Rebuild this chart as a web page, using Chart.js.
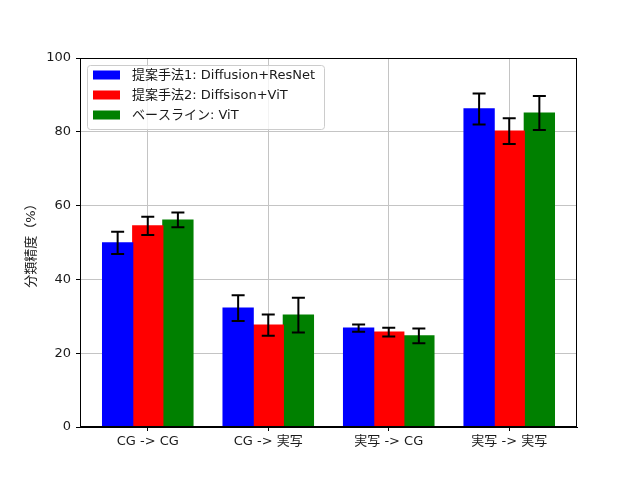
<!DOCTYPE html>
<html>
<head>
<meta charset="utf-8">
<script src="https://cdn.jsdelivr.net/npm/chart.js@4"></script>
<style>
  html, body { margin: 0; padding: 0; background: #fff; }
  #wrap { width: 640px; height: 480px; }
</style>
</head>
<body>
<div id="wrap"><canvas id="accChart" width="640" height="480"></canvas></div>
<script>
// data
const categories = ['CG -> CG', 'CG -> 実写', '実写 -> CG', '実写 -> 実写'];
const seriesLabels = ['提案手法1: Diffusion+ResNet', '提案手法2: Diffsison+ViT', 'ベースライン: ViT'];
const seriesColors = ['#0000ff', '#ff0000', '#008000'];
const method1 = [49.9, 32.2, 26.8, 86.2];
const method1Err = [3.0, 3.5, 1.0, 4.2];
const method2 = [54.5, 27.6, 25.7, 80.2];
const method2Err = [2.5, 2.9, 1.2, 3.5];
const baseline = [56.1, 30.3, 24.7, 85.1];
const baselineErr = [2.0, 4.7, 2.0, 4.6];
const yTicks = [0, 20, 40, 60, 80, 100];

const FONT = '"DejaVu Sans", "Noto Sans CJK JP", sans-serif';
const values = [method1, method2, baseline];
const errors = [method1Err, method2Err, baselineErr];

// error bars + frame + legend drawn on top
const extras = {
  id: 'extras',
  afterDatasetsDraw(chart) {
    const ctx = chart.ctx;
    const yScale = chart.scales.y;
    ctx.save();
    ctx.strokeStyle = '#000';
    ctx.lineWidth = 2;
    chart.data.datasets.forEach((ds, di) => {
      const meta = chart.getDatasetMeta(di);
      meta.data.forEach((bar, i) => {
        const v = values[di][i], e = errors[di][i];
        const yt = yScale.getPixelForValue(v + e);
        const yb = yScale.getPixelForValue(v - e);
        ctx.beginPath();
        ctx.moveTo(bar.x, yt); ctx.lineTo(bar.x, yb);
        ctx.moveTo(bar.x - 6.5, yt); ctx.lineTo(bar.x + 6.5, yt);
        ctx.moveTo(bar.x - 6.5, yb); ctx.lineTo(bar.x + 6.5, yb);
        ctx.stroke();
      });
    });
    ctx.restore();
  },
  afterDraw(chart) {
    const ctx = chart.ctx;
    const a = chart.chartArea;
    ctx.save();
    ctx.strokeStyle = '#000';
    ctx.lineWidth = 1;
    ctx.strokeRect(Math.round(a.left) + 0.5, Math.round(a.top) + 0.5,
      Math.round(a.right - a.left) - 1, Math.round(a.bottom - a.top) - 1);

    // legend box
    const lx = a.left + 7, ly = a.top + 7, lw = 237, lh = 64;
    ctx.fillStyle = 'rgba(255,255,255,0.8)';
    ctx.strokeStyle = '#cccccc';
    ctx.beginPath();
    ctx.roundRect(lx + 0.5, ly + 0.5, lw, lh, 3);
    ctx.fill();
    ctx.stroke();
    ctx.font = '13px ' + FONT;
    ctx.textBaseline = 'middle';
    chart.data.datasets.forEach((ds, di) => {
      const cy = ly + 10 + di * 20;
      ctx.fillStyle = ds.backgroundColor;
      ctx.fillRect(lx + 6, cy - 4.5, 27, 9);
      ctx.fillStyle = '#1a1a1a';
      ctx.fillText(ds.label, lx + 45, cy + 1);
    });
    ctx.restore();
  }
};

new Chart(document.getElementById('accChart'), {
  type: 'bar',
  data: {
    datasets: seriesLabels.map((label, di) => ({
      label: label,
      data: values[di].map((v, i) => ({ x: i, y: v })),
      backgroundColor: seriesColors[di],
      borderWidth: 0,
      inflateAmount: 0.6,
      categoryPercentage: 0.75,
      barPercentage: 1.0
    }))
  },
  options: {
    responsive: false,
    animation: false,
    devicePixelRatio: 1,
    layout: { padding: { top: 58, right: 63, left: 0, bottom: 0 } },
    plugins: {
      legend: { display: false },
      tooltip: { enabled: false }
    },
    scales: {
      x: {
        type: 'linear',
        offset: false,
        min: -0.5625,
        max: 3.5625,
        afterBuildTicks: (s) => { s.ticks = categories.map((c, i) => ({ value: i })); },
        afterFit: (s) => { s.height = 53; },
        grid: { offset: false, color: '#c4c4c4', tickColor: '#000', tickLength: 4 },
        border: { color: '#000' },
        ticks: {
          color: '#1a1a1a',
          font: { family: FONT, size: 13 },
          padding: 3,
          maxRotation: 0,
          autoSkip: false,
          callback: (v) => categories[v]
        }
      },
      y: {
        min: 0,
        max: 100,
        afterBuildTicks: (s) => { s.ticks = yTicks.map(v => ({ value: v })); },
        afterFit: (s) => { s.width = 80; },
        grid: { color: '#c4c4c4', tickColor: '#000', tickLength: 4 },
        border: { color: '#000' },
        ticks: {
          color: '#1a1a1a',
          font: { family: FONT, size: 13 },
          padding: 5
        },
        title: {
          display: true,
          text: '分類精度（%）',
          color: '#1a1a1a',
          font: { family: FONT, size: 13 },
          padding: { top: 24, bottom: 0 }
        }
      }
    }
  },
  plugins: [extras]
});
</script>
</body>
</html>
